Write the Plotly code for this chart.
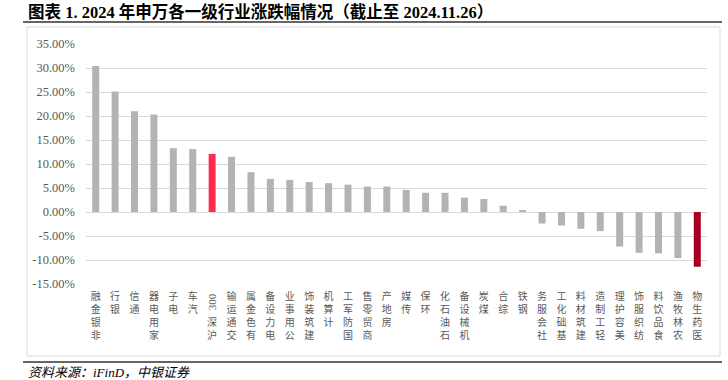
import plotly.graph_objects as go
import re

categories = ["非银金融", "银行", "通信", "家用电器", "电子", "汽车", "沪深300", "交通运输",
              "有色金属", "电力设备", "公用事业", "建筑装饰", "计算机", "国防军工", "商贸零售",
              "房地产", "传媒", "环保", "石油石化", "机械设备", "煤炭", "综合", "钢铁",
              "社会服务", "基础化工", "建筑材料", "轻工制造", "美容护理", "纺织服饰",
              "食品饮料", "农林牧渔", "医药生物"]
values = [30.4, 25.1, 21.0, 20.3, 13.3, 13.1, 12.1, 11.5,
          8.3, 6.9, 6.7, 6.25, 6.0, 5.7, 5.3,
          5.3, 4.6, 4.0, 4.0, 3.0, 2.7, 1.3, 0.4,
          -2.4, -2.8, -3.5, -4.0, -7.2, -8.5,
          -8.6, -9.6, -11.4]
tick_vals = [35, 30, 25, 20, 15, 10, 5, 0, -5, -10, -15]
tick_text = ["35.00%", "30.00%", "25.00%", "20.00%", "15.00%", "10.00%", "5.00%", "0.00%",
             "-5.00%", "-10.00%", "-15.00%"]

GRAY = "#b3b3b3"
HS_RED = "#ff2b4f"
DARK_RED = "#a50021"
colors = []
for c in categories:
    if c == "沪深300":
        colors.append(HS_RED)
    elif c == "医药生物":
        colors.append(DARK_RED)
    else:
        colors.append(GRAY)

SERIF = "Liberation Serif, Noto Sans CJK SC"
LABEL_GRAY = "#595959"

# plot area geometry
L, R, T, B = 86, 21, 44, 96
W, H = 728, 380
pw, ph = W - L - R, H - T - B

def px(x):
    return (x - L) / pw

def py(y):
    return (H - B - y) / ph

# vertical labels: upright characters read from bottom to top, top-aligned under the axis
tick_labels = []
annotations = []
for c in categories:
    latin = "".join(re.findall(r"[\x00-\x7f]", c))
    cjk = re.findall(r"[^\x00-\x7f]", c)
    if latin:
        tick_labels.append("")
        annotations.append(dict(x=c, xref="x", y=py(302), yref="paper", text=latin,
                                textangle=-90, showarrow=False, xanchor="center",
                                yanchor="middle",
                                font=dict(family=SERIF, size=11, color=LABEL_GRAY)))
        for i, ch in enumerate(reversed(cjk)):
            annotations.append(dict(x=c, xref="x", y=py(322 + 12.5 * i), yref="paper",
                                    text=ch, showarrow=False, xanchor="center",
                                    yanchor="middle",
                                    font=dict(family=SERIF, size=10, color=LABEL_GRAY)))
    else:
        tick_labels.append("<br>".join(reversed(cjk)))

fig = go.Figure()
fig.add_trace(go.Bar(x=categories, y=values, marker=dict(color=colors, line=dict(width=0)),
                     width=0.36, hoverinfo="x+y"))

annotations += [
    dict(x=px(26), y=py(12), xref="paper", yref="paper",
         text="<b>图表 1. 2024 年申万各一级行业涨跌幅情况（截止至 2024.11.26）</b>",
         showarrow=False, xanchor="left", yanchor="middle",
         font=dict(family=SERIF, size=16.5, color="#000000")),
    dict(x=px(26), y=py(372), xref="paper", yref="paper",
         text="<i>资料来源：iFinD，中银证券</i>",
         showarrow=False, xanchor="left", yanchor="middle",
         font=dict(family=SERIF, size=13, color="#000000")),
]

shapes = [
    dict(type="line", xref="paper", yref="paper", x0=px(23), x1=px(722), y0=py(22), y1=py(22),
         line=dict(color="#333333", width=1.5)),
    dict(type="rect", xref="paper", yref="paper", x0=px(27), x1=px(720), y0=py(27), y1=py(356),
         line=dict(color="#d9d9d9", width=1), layer="below"),
    dict(type="line", xref="paper", yref="paper", x0=px(23), x1=px(722), y0=py(362), y1=py(362),
         line=dict(color="#333333", width=1.5)),
]

fig.update_layout(
    width=W, height=H,
    margin=dict(l=L, r=R, t=T, b=B),
    paper_bgcolor="white", plot_bgcolor="white",
    showlegend=False,
    annotations=annotations,
    shapes=shapes,
    xaxis=dict(type="category", tickmode="array", tickvals=categories, ticktext=tick_labels,
               tickangle=0, showgrid=False, showline=False, zeroline=False,
               ticks="", ticklabelstandoff=5,
               tickfont=dict(family=SERIF, size=10, color=LABEL_GRAY),
               range=[-0.5, len(categories) - 0.5]),
    yaxis=dict(range=[-15, 35], tickmode="array", tickvals=tick_vals, ticktext=tick_text,
               showgrid=True, gridcolor="#d9d9d9", gridwidth=1,
               zeroline=True, zerolinecolor="#d9d9d9", zerolinewidth=1,
               showline=False, ticks="", ticklabelstandoff=10,
               tickfont=dict(family="Liberation Serif", size=12.5, color=LABEL_GRAY)),
)

fig.write_html("out.html")
